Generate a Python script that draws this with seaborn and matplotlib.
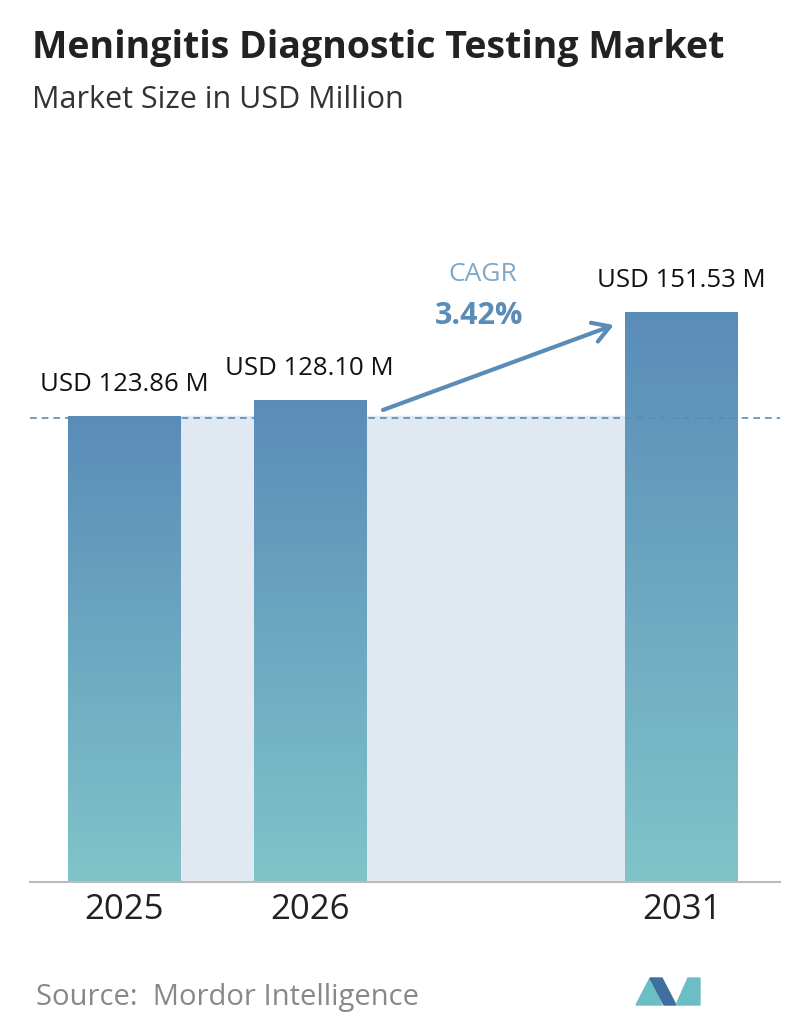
import numpy as np
import pandas as pd
import matplotlib
matplotlib.use("Agg")
import matplotlib.pyplot as plt
import seaborn as sns
from matplotlib.colors import LinearSegmentedColormap
from matplotlib.patches import Polygon

years = ["2025", "2026", "2031"]
positions = [0, 1, 3]
values = [123.86, 128.10, 151.53]
labels = ["USD 123.86 M", "USD 128.10 M", "USD 151.53 M"]
cagr = "3.42%"

sns.set_theme(style="white")
plt.rcParams["font.family"] = ["Open Sans", "DejaVu Sans"]

W, H = 796, 1034
fig = plt.figure(figsize=(W / 100, H / 100), dpi=100)
ax = fig.add_axes([30 / W, 1 - 882 / H, 750 / W, 682 / H])

df = pd.DataFrame({"pos": positions, "value": values})
sns.barplot(data=df, x="pos", y="value", native_scale=True, width=0.605,
            color="#5b8db8", ax=ax)
ymax = 682 / (466 / values[0])
xlim = (-0.505, 3.53)

cmap = LinearSegmentedColormap.from_list("g", ["#80c4c9", "#5a8cb8"])
grad = np.linspace(0, 1, 256).reshape(-1, 1)
for p in ax.patches:
    x0 = p.get_x()
    w, h = p.get_width(), p.get_height()
    im = ax.imshow(grad, extent=[x0, x0 + w, 0, h], origin="lower", cmap=cmap,
                   aspect="auto", zorder=2)
    im.set_clip_path(p)
    p.set_edgecolor("none")
ax.set_xlim(*xlim)
ax.set_ylim(0, ymax)

# shaded band between the bars
left = positions[0] + 0.3025
right = positions[2] - 0.3025
ax.fill_between([left, right], 0, values[0], color="#e0e9f1", zorder=0.5)
ax.axhline(values[0] - 0.5, color="#5a8cb8", ls=(0, (4, 3)), lw=1.2, zorder=3)

for x, v, t in zip(positions, values, labels):
    ax.text(x, v + 5.0, t, ha="center", va="bottom", fontsize=18.5,
            fontweight="medium", color="#111111")

ax.annotate("", xy=(2.65, 148.3), xytext=(1.38, 125.2),
            arrowprops=dict(arrowstyle="->,head_length=1.0,head_width=0.6",
                            color="#5a8cb8", lw=3), zorder=4)
ax.text(1.93, 161.5, "CAGR", ha="center", va="center", fontsize=19, color="#7fa8c8")
ax.text(1.91, 150.5, cagr, ha="center", va="center", fontsize=22,
        fontweight="bold", color="#5a8cb8")

ax.set_xticks(positions)
ax.set_xticklabels(years, fontsize=25, color="#222222")
ax.tick_params(axis="x", length=0, pad=8)
ax.set_yticks([])
ax.set_xlabel("")
ax.set_ylabel("")
for s in ["top", "right", "left"]:
    ax.spines[s].set_visible(False)
ax.spines["bottom"].set_color("#bbbbbb")
ax.spines["bottom"].set_linewidth(1.5)

fig.text(32 / W, 1 - 48 / H, "Meningitis Diagnostic Testing Market", fontsize=27,
         fontweight="bold", color="#222222", va="center")
fig.text(32 / W, 1 - 100 / H, "Market Size in USD Million", fontsize=22,
         color="#333333", va="center")
fig.text(36 / W, 1 - 997 / H, "Source:  Mordor Intelligence", fontsize=21,
         color="#888888", va="center")

# logo
def px(pts):
    return [(x / W, 1 - y / H) for x, y in pts]
fig.patches.append(Polygon(px([(636, 1005), (650, 978), (662, 1005)]), closed=True,
                           transform=fig.transFigure, color="#6bbfc4"))
fig.patches.append(Polygon(px([(650, 978), (662, 978), (676, 1005), (664, 1005)]),
                           closed=True, transform=fig.transFigure, color="#3f6f9e"))
fig.patches.append(Polygon(px([(676, 1005), (688, 978), (700, 978), (700, 1005)]),
                           closed=True, transform=fig.transFigure, color="#6bbfc4"))

fig.savefig("out.png", dpi=100)
